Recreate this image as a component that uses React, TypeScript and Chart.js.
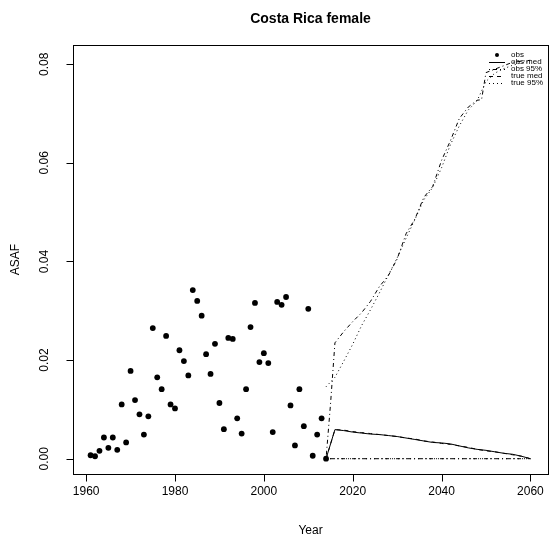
import React, { useEffect, useRef } from "react";
import { Chart, registerables } from "chart.js";

Chart.register(...registerables);

// ---------- data ----------
const OBS_YEARS = [
  1961, 1962, 1963, 1964, 1965, 1966, 1967, 1968, 1969, 1970,
  1971, 1972, 1973, 1974, 1975, 1976, 1977, 1978, 1979, 1980,
  1981, 1982, 1983, 1984, 1985, 1986, 1987, 1988, 1989, 1990,
  1991, 1992, 1993, 1994, 1995, 1996, 1997, 1998, 1999, 2000,
  2001, 2002, 2003, 2004, 2005, 2006, 2007, 2008, 2009, 2010,
  2011, 2012, 2013, 2014,
];
const OBS_ASAF = [
  0.0007, 0.0005, 0.0016, 0.0043, 0.0022, 0.0043, 0.0018, 0.0110, 0.0033, 0.0178,
  0.0119, 0.0090, 0.0049, 0.0086, 0.0265, 0.0165, 0.0141, 0.0249, 0.0110, 0.0102,
  0.0220, 0.0198, 0.0169, 0.0342, 0.0320, 0.0290, 0.0212, 0.0172, 0.0233, 0.0113,
  0.0060, 0.0245, 0.0243, 0.0082, 0.0051, 0.0141, 0.0267, 0.0316, 0.0196, 0.0214,
  0.0194, 0.0054, 0.0318, 0.0312, 0.0328, 0.0108, 0.0027, 0.0141, 0.0066, 0.0304,
  0.0006, 0.0049, 0.0082, 0.0000,
];

const MED_YEARS = [
  2014, 2016, 2018, 2020, 2022, 2024, 2026, 2028, 2030, 2032, 2034, 2036,
  2038, 2040, 2042, 2044, 2046, 2048, 2050, 2052, 2054, 2056, 2058, 2060,
];
const OBS_MED = [
  0.0, 0.0059, 0.0057, 0.0054, 0.0052, 0.0050, 0.0049, 0.0047, 0.0045, 0.0042, 0.0039, 0.0036,
  0.0033, 0.0032, 0.0030, 0.0026, 0.0022, 0.0019, 0.0017, 0.0014, 0.0011, 0.0009, 0.0005, 0.0,
];
const TRUE_MED = [
  0.0, 0.0059, 0.0058, 0.0055, 0.0053, 0.0051, 0.0049, 0.0047, 0.0045, 0.0042, 0.0040, 0.0036,
  0.0034, 0.0031, 0.0029, 0.0026, 0.0023, 0.0019, 0.0016, 0.0014, 0.0011, 0.0008, 0.0005, 0.0,
];

const OBS95_UP_YEARS = [
  2014, 2015, 2016, 2018, 2020, 2022, 2024, 2026, 2028, 2030, 2032, 2034, 2036,
  2038, 2040, 2042, 2044, 2046, 2048, 2049, 2050, 2052, 2054, 2056, 2058, 2060,
];
const OBS95_UP = [
  0.0, 0.011, 0.0235, 0.0258, 0.0278, 0.0296, 0.0319, 0.0349, 0.0371, 0.0405, 0.0456, 0.0486, 0.0530,
  0.0552, 0.0605, 0.0645, 0.0690, 0.0713, 0.0727, 0.0728, 0.0783, 0.0790, 0.0797, 0.0804, 0.0806, 0.0808,
];

const TRUE95_UP_YEARS = [
  2014, 2016, 2018, 2020, 2022, 2024, 2026, 2028, 2030, 2032, 2034, 2036,
  2038, 2040, 2042, 2044, 2046, 2048, 2050, 2052, 2054, 2056, 2058, 2060,
];
const TRUE95_UP = [
  0.0146, 0.0165, 0.0198, 0.0232, 0.0270, 0.0302, 0.0336, 0.0372, 0.0407, 0.0447, 0.0485, 0.0525,
  0.0550, 0.0590, 0.0637, 0.0675, 0.0707, 0.0726, 0.0765, 0.0782, 0.0791, 0.0798, 0.0803, 0.0806,
];

const LOW_YEARS = [2014, 2060];
const OBS95_LOW = [0.0, 0.0];
const TRUE95_LOW = [0.0, 0.0];

const X_TICKS = [1960, 1980, 2000, 2020, 2040, 2060];
const Y_TICKS = [0, 0.02, 0.04, 0.06, 0.08];
const Y_TICK_LABELS = ["0.00", "0.02", "0.04", "0.06", "0.08"];

const TITLE = "Costa Rica female";
const X_TITLE = "Year";
const Y_TITLE = "ASAF";
const LEGEND_LABELS = ["obs", "obs med", "obs 95%", "true med", "true 95%"];

// ---------- styles ----------
const FONT = '"Liberation Sans", Arial, Helvetica, sans-serif';
const DASH_SOLID: number[] = [];
const DASH_DASHED = [4, 4];
const DASH_DOTTED = [1, 3];
const DASH_DOTDASH = [1, 3, 4, 3];

const pts = (xs: number[], ys: number[]) => xs.map((x, i) => ({ x, y: ys[i] }));

const lineDs = (label: string, data: { x: number; y: number }[], dash: number[]) => ({
  label,
  data,
  showLine: true,
  borderColor: "#000",
  backgroundColor: "#000",
  borderWidth: 1,
  borderDash: dash,
  pointRadius: 0,
  pointHoverRadius: 0,
  tension: 0,
  fill: false,
});

const rPlotPlugin = {
  id: "rPlot",
  afterDraw(chart: any) {
    const { ctx, chartArea: a } = chart;
    const xs = chart.scales.x;
    const ys = chart.scales.y;
    ctx.save();
    ctx.strokeStyle = "#000";
    ctx.fillStyle = "#000";
    ctx.lineWidth = 1;
    ctx.setLineDash([]);

    const L = Math.round(a.left) + 0.5;
    const R = Math.round(a.right) + 0.5;
    const T = Math.round(a.top) + 0.5;
    const B = Math.round(a.bottom) + 0.5;
    // box
    ctx.strokeRect(L, T, R - L, B - T);

    // x axis
    const tl = 7;
    ctx.beginPath();
    const x0 = Math.round(xs.getPixelForValue(X_TICKS[0])) + 0.5;
    const x1 = Math.round(xs.getPixelForValue(X_TICKS[X_TICKS.length - 1])) + 0.5;
    ctx.moveTo(x0, B);
    ctx.lineTo(x1, B);
    X_TICKS.forEach((v) => {
      const px = Math.round(xs.getPixelForValue(v)) + 0.5;
      ctx.moveTo(px, B);
      ctx.lineTo(px, B + tl);
    });
    ctx.stroke();
    ctx.font = `12px ${FONT}`;
    ctx.textAlign = "center";
    ctx.textBaseline = "middle";
    X_TICKS.forEach((v) => {
      ctx.fillText(String(v), xs.getPixelForValue(v), B + 17);
    });

    // y axis
    ctx.beginPath();
    const y0 = Math.round(ys.getPixelForValue(Y_TICKS[0])) + 0.5;
    const y1 = Math.round(ys.getPixelForValue(Y_TICKS[Y_TICKS.length - 1])) + 0.5;
    ctx.moveTo(L, y0);
    ctx.lineTo(L, y1);
    Y_TICKS.forEach((v) => {
      const py = Math.round(ys.getPixelForValue(v)) + 0.5;
      ctx.moveTo(L, py);
      ctx.lineTo(L - tl, py);
    });
    ctx.stroke();
    Y_TICKS.forEach((v, i) => {
      ctx.save();
      ctx.translate(L - 29, ys.getPixelForValue(v));
      ctx.rotate(-Math.PI / 2);
      ctx.fillText(Y_TICK_LABELS[i], 0, 0);
      ctx.restore();
    });

    // titles
    const cx = (a.left + a.right) / 2;
    const cy = (a.top + a.bottom) / 2;
    ctx.font = `bold 14px ${FONT}`;
    ctx.fillText(TITLE, cx, 19);
    ctx.font = `12px ${FONT}`;
    ctx.fillText(X_TITLE, cx, 531);
    ctx.save();
    ctx.translate(16, cy);
    ctx.rotate(-Math.PI / 2);
    ctx.fillText(Y_TITLE, 0, 0);
    ctx.restore();

    // legend
    const rowY = [55, 62, 69, 76, 83];
    const symL = 489;
    const symR = 505;
    const textX = 511;
    const dashes = [null, DASH_SOLID, DASH_DOTDASH, DASH_DASHED, DASH_DOTTED];
    ctx.font = `8px ${FONT}`;
    ctx.textAlign = "left";
    LEGEND_LABELS.forEach((lab, i) => {
      const yy = rowY[i];
      if (i === 0) {
        ctx.beginPath();
        ctx.arc((symL + symR) / 2, yy, 2, 0, Math.PI * 2);
        ctx.fill();
      } else {
        ctx.beginPath();
        ctx.setLineDash(dashes[i] as number[]);
        ctx.moveTo(symL, yy + 0.5);
        ctx.lineTo(symR, yy + 0.5);
        ctx.stroke();
        ctx.setLineDash([]);
      }
      ctx.fillText(lab, textX, yy);
    });
    ctx.restore();
  },
};

export default function App() {
  const ref = useRef<HTMLCanvasElement | null>(null);

  useEffect(() => {
    if (!ref.current) return;
    const chart = new Chart(ref.current, {
      type: "scatter",
      data: {
        datasets: [
          {
            label: LEGEND_LABELS[0],
            data: pts(OBS_YEARS, OBS_ASAF),
            showLine: false,
            pointRadius: 2.9,
            pointHoverRadius: 2.9,
            pointBorderWidth: 0,
            backgroundColor: "#000",
            borderColor: "#000",
          },
          lineDs(LEGEND_LABELS[1], pts(MED_YEARS, OBS_MED), DASH_SOLID),
          lineDs(LEGEND_LABELS[2], pts(OBS95_UP_YEARS, OBS95_UP), DASH_DOTDASH),
          lineDs(LEGEND_LABELS[2] + " low", pts(LOW_YEARS, OBS95_LOW), DASH_DOTDASH),
          lineDs(LEGEND_LABELS[3], pts(MED_YEARS, TRUE_MED), DASH_DASHED),
          lineDs(LEGEND_LABELS[4], pts(TRUE95_UP_YEARS, TRUE95_UP), DASH_DOTTED),
          lineDs(LEGEND_LABELS[4] + " low", pts(LOW_YEARS, TRUE95_LOW), DASH_DOTTED),
        ] as any,
      },
      options: {
        responsive: false,
        animation: false,
        devicePixelRatio: 1,
        layout: { padding: { left: 73, right: 3, top: 45, bottom: 70 } },
        plugins: { legend: { display: false }, tooltip: { enabled: false }, title: { display: false } },
        scales: {
          x: { type: "linear", min: 1957.04, max: 2063.96, display: false },
          y: { type: "linear", min: -0.0031, max: 0.0839, display: false },
        },
      } as any,
      plugins: [rPlotPlugin],
    });
    return () => chart.destroy();
  }, []);

  return (
    <div style={{ position: "absolute", left: 0, top: 0, width: 551, height: 544, background: "#fff" }}>
      <canvas ref={ref} width={551} height={544} style={{ width: 551, height: 544, display: "block" }} />
    </div>
  );
}
